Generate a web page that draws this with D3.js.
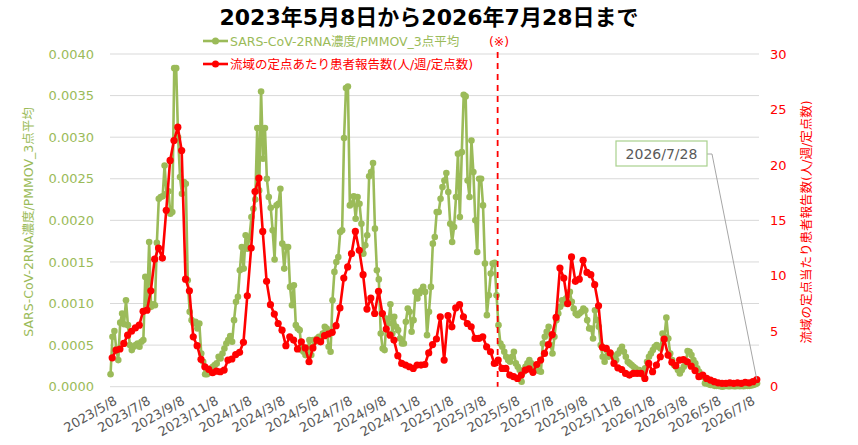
<!DOCTYPE html>
<html>
<head>
<meta charset="utf-8">
<script src="https://cdn.jsdelivr.net/npm/d3@7"></script>
<style>
  body { margin: 0; background: #fff; }
  text { font-family: "DejaVu Sans", "Noto Sans CJK JP", sans-serif; }
</style>
</head>
<body>
<div id="chart"></div>
<script>
// 流域の定点あたり患者報告数 (weekly, from 2023/5/12)
var redValues = [
  2.6, 3.3, 3.4, 3.9, 4.65, 5.0, 5.3, 5.55, 6.8, 6.9,
  8.65, 11.5, 12.5, 11.6, 15.9, 20.4, 22.2, 23.4, 21.3, 9.7,
  8.65, 4.5, 3.7, 2.47, 1.8, 1.57, 1.26, 1.4, 1.35, 1.5,
  2.4, 2.5, 2.9, 3.1, 4.0, 8.2, 12.5, 17.6, 18.8, 14.0,
  9.5, 7.4, 6.55, 5.7, 5.1, 3.7, 4.5, 4.2, 3.4, 4.05,
  3.5, 2.25, 3.5, 4.2, 4.05, 4.6, 4.75, 4.9, 5.5, 7.1,
  9.8, 10.8, 12.0, 14.0, 12.3, 10.1, 7.0, 8.0, 6.6, 8.6,
  6.6, 5.2, 4.65, 4.2, 2.8, 2.1, 1.95, 1.8, 1.65, 1.95,
  1.95, 2.0, 3.05, 3.8, 4.3, 6.3, 2.4, 6.4, 5.4, 7.1,
  7.4, 6.3, 5.7, 5.4, 4.35, 4.35, 4.5, 3.6, 3.15, 2.1,
  2.4, 1.65, 1.65, 1.05, 0.9, 0.75, 1.05, 1.5, 1.6, 1.3,
  2.0, 2.4, 3.0, 3.8, 4.7, 6.25, 10.7, 9.8, 7.5, 11.7,
  9.5, 9.7, 11.4, 10.3, 10.1, 9.2, 7.3, 3.55, 3.45, 3.05,
  2.1, 1.7, 1.55, 1.2, 1.05, 1.2, 1.2, 1.2, 0.75, 2.1,
  1.35, 1.95, 2.7, 4.3, 2.85, 2.2, 1.9, 2.4, 2.45, 2.25,
  1.85, 1.45, 0.9, 1.05, 0.75, 0.6, 0.45, 0.35, 0.3, 0.3,
  0.35, 0.3, 0.35, 0.3, 0.4, 0.35, 0.45, 0.65
];

// SARS-CoV-2RNA濃度/PMMOV 3点平均, unit 1e-4 (twice a week, from 2023/5/9)
var greenValues = [
  1.5, 6.0, 6.7, 4.5, 3.2, 7.7, 8.8, 7.5, 10.4, 7.4,
  5.0, 4.4, 4.8, 5.0, 5.2, 4.8, 5.4, 5.6, 13.2, 10.0,
  17.4, 9.6, 9.9, 9.8, 17.3, 22.6, 22.8, 22.9, 26.6, 23.2,
  23.5, 20.8, 21.0, 38.3, 38.3, 30.0, 25.2, 23.2, 24.6, 24.4,
  12.8, 9.0, 8.0, 7.6, 7.8, 7.0, 7.6, 4.0, 3.0, 1.5,
  1.5, 2.0, 2.2, 2.4, 2.6, 2.8, 3.6, 3.4, 4.0, 4.6,
  5.2, 5.6, 6.1, 5.4, 8.0, 10.2, 10.8, 14.0, 16.8, 14.2,
  18.2, 16.6, 18.0, 20.4, 21.4, 22.5, 31.1, 23.6, 35.5, 27.4,
  31.1, 25.0, 22.8, 21.5, 18.8, 15.3, 21.8, 22.0, 23.8, 17.2,
  14.2, 16.8, 16.8, 12.0, 9.8, 12.2, 7.4, 7.0, 6.8, 4.4,
  4.2, 3.8, 4.4, 5.6, 3.8, 5.6, 5.4, 5.8, 6.0, 5.6,
  6.4, 7.2, 7.0, 4.8, 4.2, 10.4, 13.8, 15.0, 15.6, 18.6,
  18.8, 29.9, 35.9, 36.1, 21.8, 22.0, 22.9, 20.2, 22.8, 22.0,
  19.6, 16.0, 17.0, 18.2, 25.3, 25.8, 26.9, 19.0, 14.0, 12.9,
  6.4, 4.6, 4.4, 8.2, 7.6, 9.9, 6.4, 8.4, 7.2, 6.8,
  5.8, 5.2, 5.2, 7.8, 9.4, 9.0, 6.6, 8.0, 11.4, 10.6,
  11.2, 11.6, 12.0, 11.4, 6.2, 9.0, 12.0, 17.2, 18.0, 21.0,
  21.0, 22.6, 24.0, 24.8, 25.7, 23.4, 19.6, 17.4, 19.2, 22.8,
  28.0, 20.4, 28.2, 35.1, 34.9, 24.8, 22.8, 29.6, 25.8, 20.0,
  16.2, 25.0, 25.0, 21.8, 14.8, 8.6, 11.0, 13.6, 14.8, 14.9,
  11.0, 7.4, 5.2, 4.8, 4.2, 3.6, 3.2, 3.0, 3.6, 4.2,
  2.8, 2.4, 2.0, 0.6, 1.8, 2.4, 2.8, 3.2, 2.8, 2.4,
  2.2, 2.0, 1.9, 1.8, 5.2, 6.0, 6.6, 7.2, 5.0, 4.0,
  6.0, 8.0, 8.8, 9.6, 10.4, 10.0, 10.6, 11.0, 11.4, 10.2,
  9.4, 8.8, 8.6, 8.8, 9.0, 9.4, 9.2, 8.0, 7.0, 7.0,
  5.8, 9.2, 8.0, 7.2, 5.0, 3.6, 3.0, 4.4, 3.6, 4.0,
  3.8, 3.4, 3.2, 4.0, 4.4, 4.8, 4.2, 3.6, 3.0, 2.8,
  2.6, 2.4, 2.2, 2.0, 2.0, 1.6, 1.4, 2.2, 3.0, 3.6,
  4.0, 4.4, 4.8, 5.0, 4.8, 4.6, 6.4, 6.0, 8.3, 5.8,
  4.0, 3.2, 2.6, 2.4, 2.0, 1.6, 2.0, 2.4, 2.8, 4.3,
  4.2, 3.8, 3.2, 2.8, 2.2, 1.8, 1.4, 1.2, 0.4, 0.4,
  0.3, 0.2, 0.2, 0.1, 0.1, 0.1, 0.05, 0.0, 0.05, 0.1,
  0.05, 0.05, 0.1, 0.05, 0.05, 0.1, 0.05, 0.1, 0.05, 0.1,
  0.1, 0.1, 0.15, 0.2, 0.3, 0.4
];

var xTickLabels = [
  "2023/5/8", "2023/7/8", "2023/9/8", "2023/11/8", "2024/1/8", "2024/3/8",
  "2024/5/8", "2024/7/8", "2024/9/8", "2024/11/8", "2025/1/8", "2025/3/8",
  "2025/5/8", "2025/7/8", "2025/9/8", "2025/11/8", "2026/1/8", "2026/3/8",
  "2026/5/8", "2026/7/8"
];
var leftTicks = [0, 5, 10, 15, 20, 25, 30, 35, 40];   // x 1e-4
var rightTicks = [0, 5, 10, 15, 20, 25, 30];

var titleText = "2023年5月8日から2026年7月28日まで";
var greenName = "SARS-CoV-2RNA濃度/PMMOV_3点平均";
var redName = "流域の定点あたり患者報告数(人/週/定点数)";
var rightTitle = "流域の定点当たり患者報告数(人/週/定点数)";
var noteDate = "2026/7/28";
var changeDate = new Date(2025, 3, 10);  // (※)

var GREEN = "#9bbb59", RED = "#ff0000", GRAY = "#595959";

var parse = d3.timeParse("%Y/%m/%d");
var redStart = new Date(2023, 4, 12);
var greenStart = new Date(2023, 4, 9);
var redData = redValues.map(function(v, i) {
  return { date: d3.timeDay.offset(redStart, 7 * i), v: v };
});
var greenData = greenValues.map(function(v, i) {
  return { date: new Date(+greenStart + i * 3.5 * 864e5), v: v };
});

var svg = d3.select("#chart").append("svg")
    .attr("width", 858)
    .attr("height", 445);

var x = d3.scaleTime()
    .domain([new Date(2023, 4, 8), new Date(2026, 6, 28)])
    .range([110, 759]);
var yL = d3.scaleLinear().domain([0, 40]).range([386.7, 54]);
var yR = d3.scaleLinear().domain([0, 30]).range([386.7, 54]);

// gridlines
svg.append("g").selectAll("line")
    .data(leftTicks)
    .enter().append("line")
    .attr("x1", 110).attr("x2", 759)
    .attr("y1", function(d) { return yL(d); })
    .attr("y2", function(d) { return yL(d); })
    .attr("stroke", "#d9d9d9")
    .attr("stroke-width", 1);

// left axis labels
svg.append("g").selectAll("text")
    .data(leftTicks)
    .enter().append("text")
    .attr("x", 94)
    .attr("y", function(d) { return yL(d); })
    .attr("dy", "0.36em")
    .attr("text-anchor", "end")
    .attr("fill", GREEN)
    .style("font-size", "13px")
    .text(function(d) { return (d / 10000).toFixed(4); });

// right axis labels
svg.append("g").selectAll("text")
    .data(rightTicks)
    .enter().append("text")
    .attr("x", 770)
    .attr("y", function(d) { return yR(d); })
    .attr("dy", "0.36em")
    .attr("fill", RED)
    .style("font-size", "13px")
    .text(function(d) { return d; });

// x tick labels (rotated)
svg.append("g").selectAll("text")
    .data(xTickLabels)
    .enter().append("text")
    .attr("transform", function(d) {
      return "translate(" + (x(parse(d)) + 3) + ",395) rotate(-30)";
    })
    .attr("dy", "0.75em")
    .attr("text-anchor", "end")
    .attr("fill", GRAY)
    .style("font-size", "13px")
    .text(function(d) { return d; });

// axis titles
svg.append("text")
    .attr("transform", "translate(33,222) rotate(-90)")
    .attr("text-anchor", "middle")
    .attr("fill", GREEN)
    .style("font-size", "12.5px")
    .text(greenName);

svg.append("text")
    .attr("transform", "translate(811,222) rotate(-90)")
    .attr("text-anchor", "middle")
    .attr("fill", RED)
    .style("font-size", "12.5px")
    .text(rightTitle);

// green series
var greenLine = d3.line()
    .x(function(d) { return x(d.date); })
    .y(function(d) { return yL(d.v); });
svg.append("path")
    .datum(greenData)
    .attr("d", greenLine)
    .attr("fill", "none")
    .attr("stroke", GREEN)
    .attr("stroke-width", 2.6)
    .attr("stroke-linejoin", "round");
svg.append("g").selectAll("circle")
    .data(greenData)
    .enter().append("circle")
    .attr("cx", function(d) { return x(d.date); })
    .attr("cy", function(d) { return yL(d.v); })
    .attr("r", 3.3)
    .attr("fill", GREEN);

// dashed line (※)
svg.append("line")
    .attr("x1", x(changeDate)).attr("x2", x(changeDate))
    .attr("y1", 52).attr("y2", 386.7)
    .attr("stroke", RED)
    .attr("stroke-width", 1.8)
    .attr("stroke-dasharray", "6,5");

// red series
var redLine = d3.line()
    .x(function(d) { return x(d.date); })
    .y(function(d) { return yR(d.v); });
svg.append("path")
    .datum(redData)
    .attr("d", redLine)
    .attr("fill", "none")
    .attr("stroke", RED)
    .attr("stroke-width", 2.6)
    .attr("stroke-linejoin", "round");
svg.append("g").selectAll("circle")
    .data(redData)
    .enter().append("circle")
    .attr("cx", function(d) { return x(d.date); })
    .attr("cy", function(d) { return yR(d.v); })
    .attr("r", 3.6)
    .attr("fill", RED);

// title
svg.append("text")
    .attr("x", 429)
    .attr("y", 25)
    .attr("text-anchor", "middle")
    .attr("fill", "#000")
    .style("font-size", "22px")
    .style("font-weight", "bold")
    .text(titleText);

// legend
var legend = [
  { name: greenName, color: GREEN, y: 41 },
  { name: redName, color: RED, y: 64 }
];
var lg = svg.append("g").selectAll("g")
    .data(legend)
    .enter().append("g");
lg.append("line")
    .attr("x1", 203).attr("x2", 228)
    .attr("y1", function(d) { return d.y; })
    .attr("y2", function(d) { return d.y; })
    .attr("stroke", function(d) { return d.color; })
    .attr("stroke-width", 2.6);
lg.append("circle")
    .attr("cx", 215.5)
    .attr("cy", function(d) { return d.y; })
    .attr("r", 3.5)
    .attr("fill", function(d) { return d.color; });
lg.append("text")
    .attr("x", 230)
    .attr("y", function(d) { return d.y; })
    .attr("dy", "0.36em")
    .attr("fill", function(d) { return d.color; })
    .style("font-size", "12.5px")
    .text(function(d) { return d.name; });

svg.append("text")
    .attr("x", 499)
    .attr("y", 41)
    .attr("dy", "0.36em")
    .attr("text-anchor", "middle")
    .attr("fill", RED)
    .style("font-size", "12.5px")
    .text("(※)");

// annotation for latest date
var last = redData[redData.length - 1];
svg.append("polyline")
    .attr("points", [[707, 154], [712, 154], [x(last.date), yR(last.v)]].join(" "))
    .attr("fill", "none")
    .attr("stroke", "#a6a6a6")
    .attr("stroke-width", 1);
svg.append("rect")
    .attr("x", 616).attr("y", 141)
    .attr("width", 91).attr("height", 25)
    .attr("fill", "#fff")
    .attr("stroke", "#a9d18e")
    .attr("stroke-width", 1.2);
svg.append("text")
    .attr("x", 661.5)
    .attr("y", 154)
    .attr("dy", "0.36em")
    .attr("text-anchor", "middle")
    .attr("fill", GRAY)
    .style("font-size", "14px")
    .text(noteDate);
</script>
</body>
</html>
